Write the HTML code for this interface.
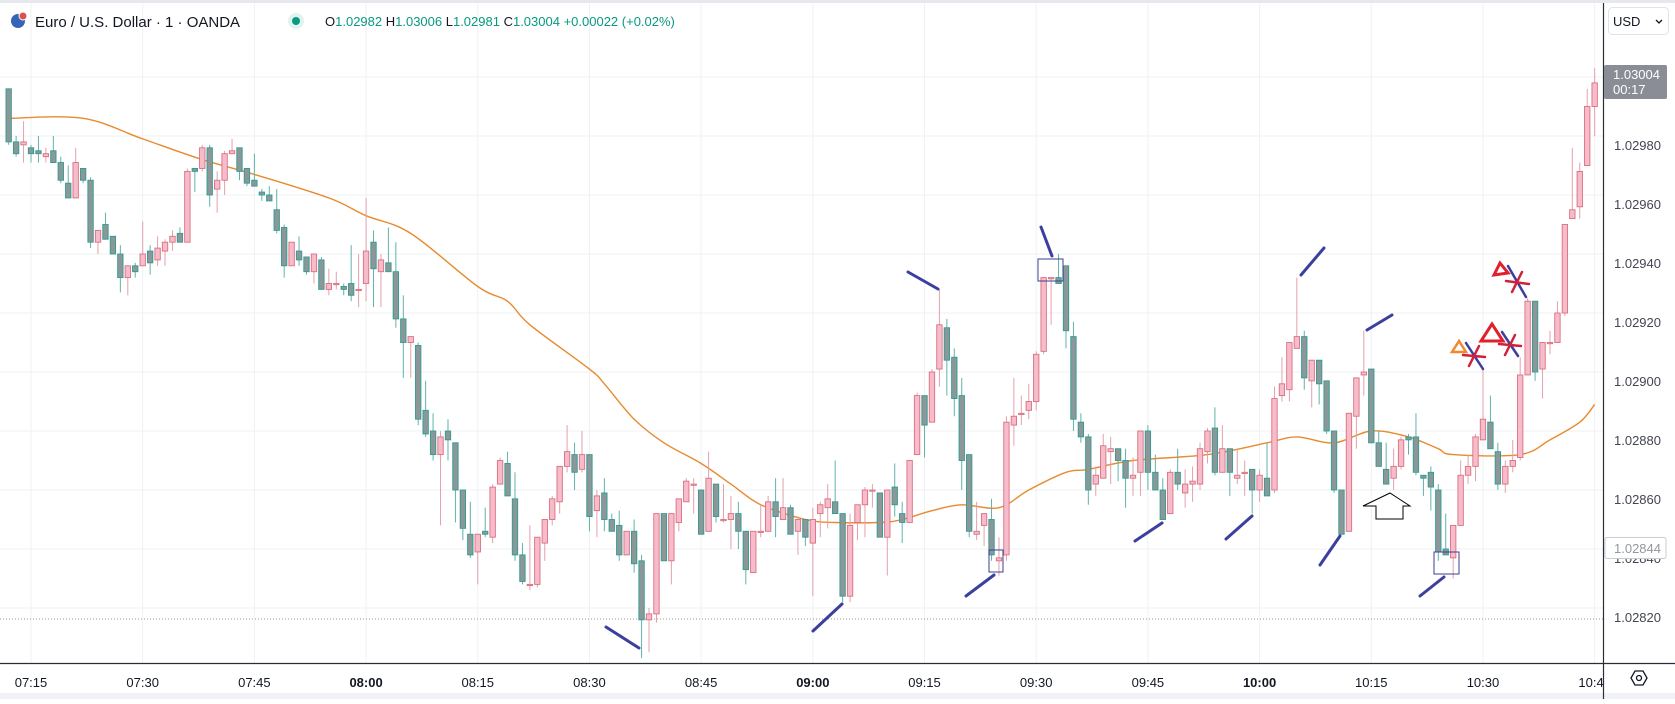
<!DOCTYPE html>
<html>
<head>
<meta charset="utf-8">
<style>
  html,body{margin:0;padding:0;background:#fff;}
  body{width:1675px;height:699px;overflow:hidden;font-family:"Liberation Sans",sans-serif;}
  svg text{font-family:"Liberation Sans",sans-serif;}
</style>
</head>
<body>
<svg id="chart" width="1675" height="699" viewBox="0 0 1675 699" xmlns="http://www.w3.org/2000/svg">
  <defs>
    <clipPath id="plotClip"><rect x="0" y="0" width="1603" height="663"/></clipPath>
    <clipPath id="timeClip"><rect x="0" y="663" width="1603" height="36"/></clipPath>
  </defs>
  <rect x="0" y="0" width="1675" height="699" fill="#ffffff"/>
  <rect x="0" y="0" width="1675" height="3" fill="#e6e8ee"/>
  <rect x="0" y="693" width="1675" height="6" fill="#f0f2f5"/>
  <g id="grid"></g>
  <line x1="0" y1="619" x2="1603" y2="619" stroke="#9598a1" stroke-width="1" stroke-dasharray="1,2" id="prevLine"/>
  <g id="plot" clip-path="url(#plotClip)">
    <path id="maLine" fill="none" stroke="#e88a2e" stroke-width="1.4"/>
    <g id="candles"></g>
    <g id="drawings" stroke="#3b3f9e" stroke-width="3" stroke-linecap="round">
      <line x1="606" y1="627" x2="639" y2="648"/>
      <line x1="813" y1="631" x2="842" y2="604"/>
      <line x1="908" y1="272" x2="938" y2="289"/>
      <line x1="966" y1="596" x2="994" y2="575"/>
      <line x1="1041" y1="227" x2="1052" y2="256"/>
      <line x1="1135" y1="541" x2="1162" y2="523"/>
      <line x1="1226" y1="539" x2="1252" y2="516"/>
      <line x1="1301" y1="275" x2="1324" y2="248"/>
      <line x1="1320" y1="565" x2="1340" y2="536"/>
      <line x1="1367" y1="330" x2="1392" y2="315"/>
      <line x1="1420" y1="596" x2="1444" y2="577"/>
      <line x1="1466" y1="343" x2="1483" y2="369" stroke-width="2.5"/>
      <line x1="1502" y1="332" x2="1518" y2="356" stroke-width="2.5"/>
      <line x1="1508" y1="266" x2="1526" y2="297" stroke-width="2.5"/>
    </g>
    <g fill="none" stroke="#3b3f8f" stroke-width="1">
      <rect x="989" y="550" width="14" height="22"/>
      <rect x="1038" y="259" width="25" height="22"/>
      <rect x="1434" y="552" width="25" height="22"/>
    </g>
    <path d="M1390,493 L1363,506 L1376,506 L1376,519 L1403,519 L1403,506 L1410,506 Z" fill="#fff" stroke="#000" stroke-width="1"/>
    <polygon points="1459,341 1452,352 1466,352" fill="none" stroke="#f08a30" stroke-width="2.5"/>
    <polygon points="1500,263 1494,275 1508,273" fill="none" stroke="#e0202a" stroke-width="3"/>
    <polygon points="1492,324 1481,341 1503,341" fill="none" stroke="#e0202a" stroke-width="3"/>
    <g stroke="#d0203a" stroke-width="2.5" stroke-linecap="round">
      <line x1="1463" y1="355" x2="1485" y2="357"/>
      <line x1="1469" y1="366" x2="1479" y2="346"/>
      <line x1="1499" y1="344" x2="1521" y2="346"/>
      <line x1="1505" y1="355" x2="1515" y2="335"/>
      <line x1="1506" y1="281" x2="1529" y2="284"/>
      <line x1="1512" y1="292" x2="1522" y2="272"/>
    </g>
  </g>
  <line x1="0" y1="663.5" x2="1675" y2="663.5" stroke="#2a2e39" stroke-width="1.2"/>
  <line x1="1603.5" y1="3" x2="1603.5" y2="699" stroke="#2a2e39" stroke-width="1.2"/>
  <g id="timeAxis" clip-path="url(#timeClip)"></g>
  <g id="priceAxis"></g>

  <g>
    <rect x="1604" y="65" width="63" height="34" rx="2" fill="#8a8d95"/>
    <text x="1613" y="79" font-size="13" fill="#fff">1.03004</text>
    <text x="1613" y="94" font-size="13" fill="#fff">00:17</text>
  </g>
  <g>
    <rect x="1605" y="537.5" width="61" height="21" rx="2" fill="#fff" stroke="#c9ccd3"/>
    <text x="1614" y="553" font-size="13" fill="#9598a1">1.02844</text>
  </g>
  <g>
    <rect x="1608.5" y="7.5" width="60" height="27" rx="4" fill="#fff" stroke="#e0e3eb"/>
    <text x="1613" y="26" font-size="13" fill="#131722">USD</text>
    <path d="M1656,20 L1659,23 L1662,20" fill="none" stroke="#131722" stroke-width="1.3"/>
  </g>
  <g>
    <polygon points="1631,678 1635,671 1643,671 1647,678 1643,685 1635,685" fill="none" stroke="#131722" stroke-width="1.3"/>
    <circle cx="1639" cy="678" r="2.5" fill="none" stroke="#131722" stroke-width="1.3"/>
  </g>

  <g>
    <circle cx="18" cy="21" r="7" fill="#3565b8"/>
    <circle cx="23" cy="16" r="4" fill="#e05050" stroke="#fff" stroke-width="1"/>
    <text x="35" y="27" font-size="15" fill="#131722">Euro / U.S. Dollar · 1 · OANDA</text>
    <circle cx="296" cy="21" r="8" fill="#e0f3ef"/>
    <circle cx="296" cy="21" r="4" fill="#089981"/>
    <text x="325" y="26" font-size="13" fill="#089981"><tspan fill="#131722">O</tspan>1.02982 <tspan fill="#131722">H</tspan>1.03006 <tspan fill="#131722">L</tspan>1.02981 <tspan fill="#131722">C</tspan>1.03004 +0.00022 (+0.02%)</text>
  </g>
</svg>
<script>
// Prices in units of 0.00001 (e.g. 102996 = 1.02996). First candle at 07:12, one per minute.
const startTime = "07:12";
const opens = [
102996,102978,102977,102976,102975,102973,102975,102971,102964,102959,
102969,102965,102944,102950,102946,102940,102932,102936,102936,102941,
102938,102941,102944,102947,102944,102969,102969,102976,102962,102965,
102974,102976,102969,102965,102961,102960,102955,102949,102936,102941,
102939,102934,102938,102928,102930,102929,102930,102928,102930,102944,
102934,102937,102934,102918,102910,102909,102887,102880,102872,102880,
102876,102860,102845,102839,102846,102844,102862,102869,102857,102838,
102828,102828,102842,102850,102856,102868,102872,102867,102872,102853,
102859,102850,102848,102838,102846,102836,102816,102818,102852,102836,
102849,102856,102862,102860,102846,102862,102850,102850,102852,102846,
102832,102846,102846,102856,102850,102854,102846,102850,102842,102852,
102854,102856,102852,102824,102849,102855,102860,102859,102844,102861,
102852,102849,102872,102892,102883,102901,102915,102905,102892,102872,
102845,102848,102850,102836,102838,102882,102886,102887,102890,102907,
102932,102932,102936,102912,102883,102878,102862,102864,102873,102874,
102870,102864,102866,102880,102866,102860,102852,102866,102859,102862,
102862,102873,102881,102866,102874,102864,102866,102867,102860,102864,
102860,102892,102894,102908,102912,102897,102904,102897,102880,102860,
102846,102885,102899,102901,102876,102867,102864,102868,102878,102878,
102865,102866,102860,102840,102837,102848,102865,102868,102877,102883,
102873,102862,102868,102871,102899,102924,102901,102910,102910,102920,
102952,102956,102970,102990];
const highs = [
102996,102980,102985,102977,102980,102976,102980,102973,102970,102976,
102969,102966,102948,102954,102946,102943,102936,102937,102951,102943,
102946,102945,102948,102949,102969,102969,102977,102977,102968,102975,
102979,102976,102969,102974,102962,102963,102962,102950,102944,102946,
102939,102940,102939,102935,102934,102930,102943,102940,102959,102948,
102940,102949,102944,102926,102912,102910,102897,102886,102880,102884,
102876,102860,102856,102845,102854,102862,102871,102873,102866,102842,
102848,102844,102850,102858,102868,102882,102876,102880,102872,102860,
102864,102852,102853,102846,102850,102838,102820,102852,102852,102852,
102857,102864,102864,102860,102873,102862,102862,102858,102856,102846,
102846,102855,102858,102864,102864,102855,102851,102850,102854,102856,
102862,102870,102852,102852,102855,102861,102862,102859,102860,102869,
102856,102870,102893,102892,102901,102928,102918,102908,102898,102872,
102856,102852,102857,102844,102885,102898,102892,102896,102907,102932,
102932,102940,102936,102917,102886,102879,102868,102879,102878,102874,
102874,102871,102880,102882,102872,102864,102867,102874,102867,102868,
102876,102881,102888,102882,102874,102874,102870,102867,102867,102876,
102895,102905,102910,102932,102914,102904,102904,102897,102880,102860,
102886,102898,102914,102901,102880,102876,102874,102878,102879,102886,
102865,102868,102862,102852,102848,102870,102872,102879,102901,102892,
102876,102870,102877,102905,102925,102924,102910,102914,102924,102950,
102976,102971,102996,103003];
const lows = [
102977,102973,102971,102971,102971,102971,102971,102964,102959,102959,
102964,102942,102940,102945,102940,102927,102926,102932,102936,102933,
102936,102936,102941,102944,102944,102961,102968,102956,102954,102960,
102974,102965,102963,102963,102958,102958,102947,102932,102936,102936,
102933,102930,102928,102926,102928,102926,102924,102922,102924,102922,
102922,102934,102915,102898,102898,102882,102878,102870,102848,102870,
102849,102843,102837,102828,102844,102842,102862,102858,102836,102828,
102826,102827,102836,102848,102852,102866,102860,102866,102846,102844,
102846,102846,102836,102838,102832,102803,102805,102815,102836,102828,
102846,102856,102852,102845,102846,102849,102849,102840,102840,102828,
102832,102844,102846,102844,102850,102845,102838,102841,102824,102844,
102847,102852,102822,102822,102843,102844,102854,102844,102831,102851,
102842,102849,102872,102871,102883,102895,102892,102885,102860,102844,
102843,102841,102836,102831,102836,102875,102882,102884,102887,102906,
102916,102930,102908,102880,102876,102855,102858,102864,102862,102863,
102854,102858,102858,102860,102860,102850,102852,102860,102854,102856,
102860,102869,102865,102866,102858,102862,102858,102852,102856,102858,
102859,102890,102890,102908,102894,102888,102889,102879,102859,102845,
102846,102874,102892,102876,102868,102862,102860,102867,102872,102865,
102858,102853,102836,102838,102830,102848,102862,102863,102877,102874,
102860,102859,102866,102870,102899,102897,102891,102906,102910,102919,
102952,102952,102970,102980];
const closes = [
102978,102974,102978,102974,102974,102974,102971,102965,102959,102971,
102965,102944,102948,102945,102940,102932,102936,102934,102940,102937,
102942,102944,102946,102944,102968,102968,102976,102960,102965,102974,
102975,102968,102964,102963,102960,102958,102948,102936,102944,102938,
102934,102940,102928,102930,102930,102928,102926,102928,102941,102935,
102938,102934,102918,102910,102912,102884,102879,102872,102878,102877,
102860,102847,102838,102845,102845,102861,102870,102858,102838,102829,
102828,102844,102850,102857,102868,102873,102866,102872,102851,102858,
102850,102846,102838,102846,102835,102816,102818,102852,102836,102852,
102857,102863,102862,102845,102864,102851,102850,102852,102846,102833,
102846,102846,102856,102851,102854,102845,102850,102844,102850,102855,
102857,102852,102824,102848,102855,102860,102860,102844,102860,102855,
102849,102870,102892,102882,102900,102916,102904,102891,102870,102846,
102846,102852,102838,102837,102883,102885,102886,102890,102906,102932,
102932,102930,102914,102884,102878,102860,102865,102875,102874,102870,
102864,102865,102880,102866,102860,102850,102866,102862,102862,102863,
102874,102880,102866,102874,102866,102865,102866,102860,102865,102858,
102891,102896,102910,102912,102898,102904,102896,102880,102860,102845,
102886,102898,102900,102876,102868,102862,102868,102877,102877,102866,
102864,102861,102839,102838,102848,102865,102868,102878,102884,102874,
102862,102868,102870,102899,102924,102900,102910,102910,102920,102950,
102955,102968,102990,102998];
// Moving average: minutes after 07:15, and value (1e-5 units)
const maMinutes = [-3,7,15,23,30,40,45,51,60,64,67,75,77,81,85,90,94,98,104,108,114,117,121,125,130,134,139,142,148,158,166,170,175,180,185,189,191,200,204,208,210];
const maValues = [102986,102986,102979,102972,102967,102959,102953,102947,102929,102924,102916,102901,102896,102884,102876,102869,102862,102855,102850,102849,102849,102850,102853,102855,102854,102860,102866,102867,102870,102872,102876,102878,102876,102880,102878,102874,102872,102872,102877,102883,102889];
const priceTicks = [102980,102960,102940,102920,102900,102880,102860,102840,102820];
const gridPrices = [103000,102980,102960,102940,102920,102900,102880,102860,102840,102820];
const timeTicks = ["07:15","07:30","07:45","08:00","08:15","08:30","08:45","09:00","09:15","09:30","09:45","10:00","10:15","10:30","10:45"];

const NS = "http://www.w3.org/2000/svg";
const ANCHOR_MIN = 7*60+15;
function toMin(t){const p=t.split(":");return (+p[0])*60+(+p[1]);}
function xAt(minOffset){return 31 + 7.446*minOffset;}
function yAt(p){return 77 + (103000 - p)*2.95;}
function mk(tag, attrs, parent){const e=document.createElementNS(NS,tag);for(const k in attrs)e.setAttribute(k,attrs[k]);parent.appendChild(e);return e;}

const grid = document.getElementById("grid");
gridPrices.forEach(p=>{
  const l = mk("line",{x1:0,x2:1603,y1:yAt(p),y2:yAt(p),stroke:"#eef1f6","stroke-width":1},grid);
  
  
});
const timeAxis = document.getElementById("timeAxis");
timeTicks.forEach(t=>{
  const x = xAt(toMin(t)-ANCHOR_MIN);
  const l = mk("line",{x1:x,x2:x,y1:3,y2:663,stroke:"#eef1f6","stroke-width":1},grid);
  
  
  const tx = mk("text",{x:x,y:687,"font-size":13,"text-anchor":"middle",fill:"#131722","font-weight":t.endsWith(":00")?"bold":"normal"},timeAxis);
  tx.textContent = t;
  
  
});
const priceAxis = document.getElementById("priceAxis");
priceTicks.forEach(p=>{
  const tx = mk("text",{x:1614,y:yAt(p)+14,"font-size":13,fill:"#434651"},priceAxis);
  tx.textContent = (p/100000).toFixed(5);
  
  
});

const startOffset = toMin(startTime) - ANCHOR_MIN;
const cg = document.getElementById("candles");
for(let i=0;i<opens.length;i++){
  const o=opens[i],h=highs[i],l=lows[i],c=closes[i];
  const x = xAt(startOffset+i);
  const bull = c>=o;
  const wick = mk("line",{x1:x,x2:x,y1:yAt(h),y2:yAt(l),stroke:bull?"#e3a1ab":"#5fb3a9","stroke-width":1},cg);
  
  
  const top = yAt(Math.max(o,c)), bot = yAt(Math.min(o,c));
  const body = mk("rect",{x:x-2.7,y:top,width:5.4,height:Math.max(1.2,bot-top),fill:bull?"#f7bccb":"#8b9799",stroke:bull?"#d9707f":"#2f9d91","stroke-width":0.9},cg);
  
  
}

// smooth moving average via Catmull-Rom
const pts = maMinutes.map((m,i)=>[xAt(m), yAt(maValues[i])]);
let d = "M"+pts[0][0].toFixed(1)+","+pts[0][1].toFixed(1);
for(let i=0;i<pts.length-1;i++){
  const p0=pts[Math.max(0,i-1)], p1=pts[i], p2=pts[i+1], p3=pts[Math.min(pts.length-1,i+2)];
  const c1x=p1[0]+(p2[0]-p0[0])/6, c1y=p1[1]+(p2[1]-p0[1])/6;
  const c2x=p2[0]-(p3[0]-p1[0])/6, c2y=p2[1]-(p3[1]-p1[1])/6;
  d += " C"+c1x.toFixed(1)+","+c1y.toFixed(1)+" "+c2x.toFixed(1)+","+c2y.toFixed(1)+" "+p2[0].toFixed(1)+","+p2[1].toFixed(1);
}
document.getElementById("maLine").setAttribute("d",d);
</script>
</body>
</html>
